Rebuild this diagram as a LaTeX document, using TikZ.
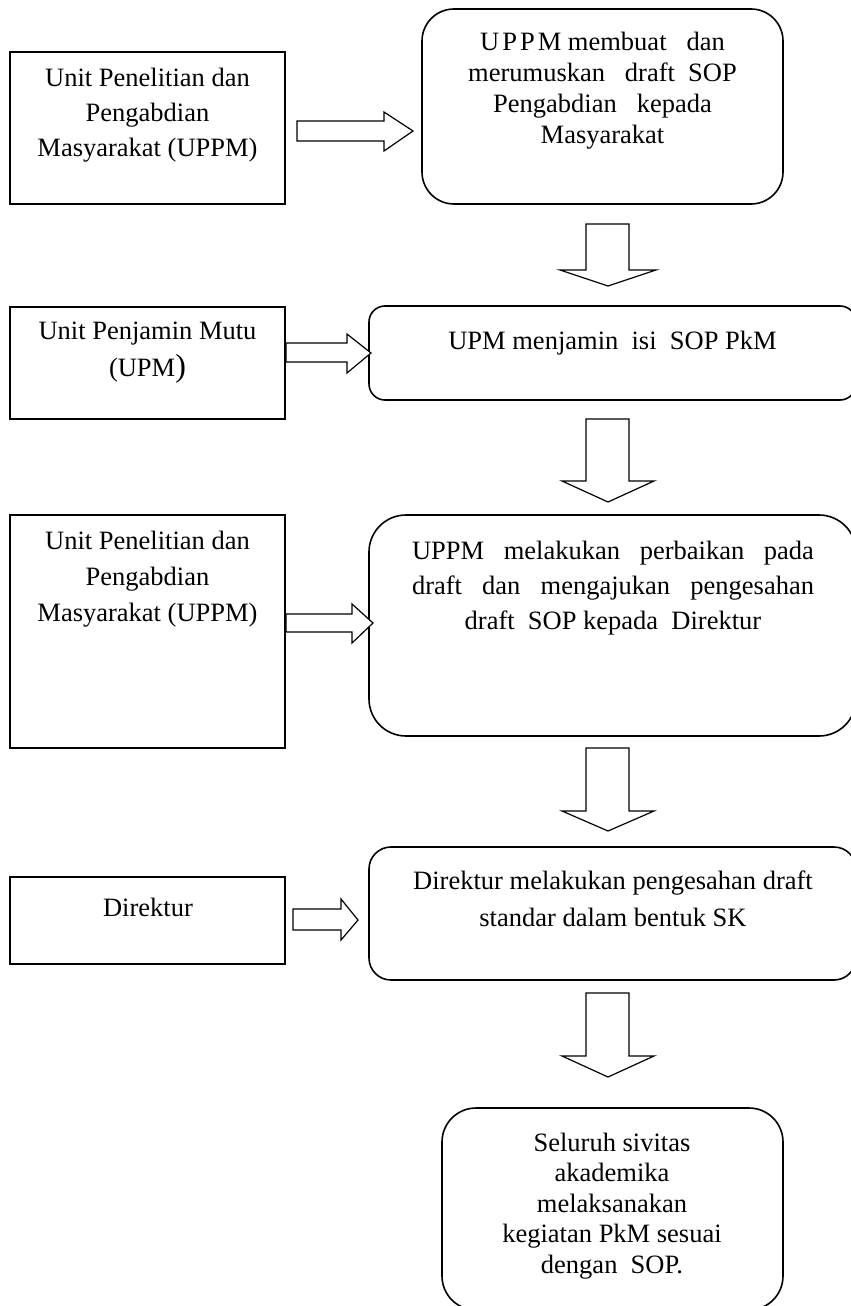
\documentclass[tikz,border=0pt]{standalone}
\usepackage{fontspec}
\setmainfont{Liberation Serif}
\definecolor{sopcolor0001}{RGB}{0,0,0}
\definecolor{sopcolor0002}{RGB}{255,255,255}
\begin{document}
\begin{tikzpicture}[yscale=-1
                ,unitbox/.style={color=sopcolor0001,line width=1.6pt}
                ,stepbox/.style={color=sopcolor0001,line width=1.6pt}
                ,blockarrow/.style={color=sopcolor0001,fill=sopcolor0002,line width=1.2pt,line join=miter}
                ,boxtext/.style={align=center,inner sep=0pt,color=black,font=\fontsize{26.5pt}{31pt}\selectfont}
            ]
            \useasboundingbox (0pt,0pt) rectangle (851pt,1306pt);
            \clip (0pt,0pt) rectangle (851pt,1306pt);
            % unit boxes on the left
            \draw[unitbox] (10pt,52pt) rectangle (285pt,204pt);
            \node[boxtext,font=\fontsize{26.5pt}{35pt}\selectfont] (uppm) at (147.5pt,115pt) {Unit Penelitian dan\\Pengabdian\\Masyarakat (UPPM)};
            \draw[unitbox] (10pt,307pt) rectangle (285pt,419pt);
            \node[boxtext,font=\fontsize{26.5pt}{37pt}\selectfont] (upm) at (147.5pt,353pt) {Unit Penjamin Mutu\\(UPM{\fontsize{32pt}{32pt}\selectfont )}};
            \draw[unitbox] (10pt,515pt) rectangle (285pt,748pt);
            \node[boxtext,font=\fontsize{26.5pt}{36pt}\selectfont] (uppmtwo) at (147.5pt,579pt) {Unit Penelitian dan\\Pengabdian\\Masyarakat (UPPM)};
            \draw[unitbox] (10pt,877pt) rectangle (285pt,964pt);
            \node[boxtext] (direktur) at (148pt,907pt) {Direktur};
            % step boxes on the right
            \draw[stepbox,rounded corners=32pt] (422pt,9pt) rectangle (783pt,204pt);
            \node[boxtext] (draftsop) at (602.5pt,91pt) {U\hspace{3pt}P\hspace{3pt}P\hspace{3pt}M membuat~~~dan\\merumuskan~~~draft~~SOP\\Pengabdian~~~kepada\\Masyarakat};
            \draw[stepbox,rounded corners=16pt] (369pt,306pt) rectangle (856pt,400pt);
            \node[boxtext] (isisop) at (612.5pt,343pt) {UPM menjamin~~isi~~SOP PkM};
            \draw[stepbox,rounded corners=37pt] (369pt,515pt) rectangle (856pt,736pt);
            \node[boxtext,font=\fontsize{26.5pt}{35pt}\selectfont] (perbaikan) at (613pt,588pt) {\makebox[402pt][s]{UPPM melakukan perbaikan pada}\\\makebox[402pt][s]{draft dan mengajukan pengesahan}\\draft~~SOP kepada~~Direktur};
            \draw[stepbox,rounded corners=22pt] (369pt,847pt) rectangle (856pt,980pt);
            \node[boxtext,font=\fontsize{26.5pt}{37pt}\selectfont] (pengesahan) at (613pt,898.5pt) {Direktur melakukan pengesahan draft\\standar dalam bentuk SK};
            \draw[stepbox,rounded corners=34pt] (442pt,1108pt) rectangle (783pt,1310pt);
            \node[boxtext,font=\fontsize{26.5pt}{30.5pt}\selectfont] (sivitas) at (612pt,1206pt) {Seluruh sivitas\\akademika\\melaksanakan\\kegiatan PkM sesuai\\dengan~~SOP.};
            % block arrows to the right
            \draw[blockarrow] (297pt,121pt) -- (384pt,121pt) -- (384pt,112pt) -- (413pt,131pt) -- (384pt,151pt) -- (384pt,141pt) -- (297pt,141pt) -- cycle;
            \draw[blockarrow] (286pt,343pt) -- (347pt,343pt) -- (347pt,334pt) -- (371pt,353pt) -- (347pt,373pt) -- (347pt,362pt) -- (286pt,362pt) -- cycle;
            \draw[blockarrow] (286pt,614pt) -- (352pt,614pt) -- (352pt,604pt) -- (373pt,623pt) -- (352pt,643pt) -- (352pt,632pt) -- (286pt,632pt) -- cycle;
            \draw[blockarrow] (293pt,909pt) -- (341pt,909pt) -- (341pt,899pt) -- (358pt,920pt) -- (341pt,940pt) -- (341pt,930pt) -- (293pt,930pt) -- cycle;
            % block arrows downwards
            \draw[blockarrow] (586pt,224pt) -- (629pt,224pt) -- (629pt,270pt) -- (656pt,270pt) -- (608pt,286pt) -- (560pt,270pt) -- (586pt,270pt) -- cycle;
            \draw[blockarrow] (586pt,419pt) -- (629pt,419pt) -- (629pt,481pt) -- (654pt,481pt) -- (608pt,502pt) -- (562pt,481pt) -- (586pt,481pt) -- cycle;
            \draw[blockarrow] (586pt,748pt) -- (629pt,748pt) -- (629pt,811pt) -- (654pt,811pt) -- (608pt,831pt) -- (562pt,811pt) -- (586pt,811pt) -- cycle;
            \draw[blockarrow] (586pt,993pt) -- (629pt,993pt) -- (629pt,1056pt) -- (654pt,1056pt) -- (608pt,1077pt) -- (562pt,1056pt) -- (586pt,1056pt) -- cycle;
        \end{tikzpicture}
\end{document}
